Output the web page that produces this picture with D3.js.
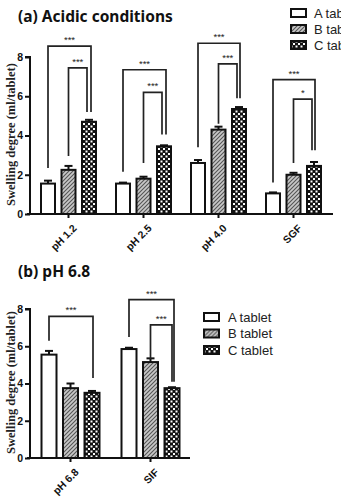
<!DOCTYPE html>
<html>
<head>
<meta charset="utf-8">
<script src="https://cdn.jsdelivr.net/npm/d3@7"></script>
<style>
  body { margin: 0; background: #fff; }
  svg text { font-family: "Liberation Sans", Arial, sans-serif; }
</style>
</head>
<body>
<svg id="svg1" width="341" height="504"></svg>
<script>
// ---- data ----
var tablets = ["A tablet", "B tablet", "C tablet"];
var yTicks = [0, 2, 4, 6, 8];

var acidCats = ["pH 1.2", "pH 2.5", "pH 4.0", "SGF"];
var acidA = [1.55, 1.55, 2.6, 1.05];
var acidB = [2.25, 1.8, 4.3, 2.0];
var acidC = [4.7, 3.45, 5.35, 2.45];
var acidAerr = [0.15, 0.05, 0.15, 0.05];
var acidBerr = [0.2, 0.1, 0.15, 0.1];
var acidCerr = [0.1, 0.05, 0.1, 0.2];
// brackets: category, from bar, to bar, top, left leg bottom, right leg bottom, label, right offset
var acidBrackets = [
  ["pH 1.2", 0, 2, 8.55, 2.35, 5.2, "***", 2],
  ["pH 1.2", 1, 2, 7.45, 2.95, 5.2, "***", -2],
  ["pH 2.5", 0, 2, 7.35, 2.15, 4.05, "***", 2],
  ["pH 2.5", 1, 2, 6.2, 2.6, 4.05, "***", -2],
  ["pH 4.0", 0, 2, 8.7, 3.4, 5.9, "***", 1],
  ["pH 4.0", 1, 2, 7.65, 4.6, 5.9, "***", -2],
  ["SGF", 0, 2, 6.85, 1.6, 3.25, "***", 1],
  ["SGF", 1, 2, 5.85, 2.6, 3.25, "*", -2]
];

var neutCats = ["pH 6.8", "SIF"];
var neutA = [5.55, 5.85];
var neutB = [3.75, 5.15];
var neutC = [3.5, 3.75];
var neutAerr = [0.2, 0.07];
var neutBerr = [0.25, 0.2];
var neutCerr = [0.1, 0.05];
var neutBrackets = [
  ["pH 6.8", 0, 2, 7.6, 6.3, 4.3, "***", 1],
  ["SIF", 0, 2, 8.5, 6.5, 4.1, "***", 2],
  ["SIF", 1, 2, 7.15, 5.3, 4.1, "***", 0]
];

var svg = d3.select("#svg1");

// ---- patterns ----
var defs = svg.append("defs");
var hatch = defs.append("pattern").attr("id", "hatch")
  .attr("patternUnits", "userSpaceOnUse").attr("width", 4).attr("height", 4);
hatch.append("rect").attr("width", 4).attr("height", 4).attr("fill", "#c8c8c8");
hatch.append("path").attr("d", "M-1,1 l2,-2 M0,4 l4,-4 M3,5 l2,-2")
  .attr("stroke", "#555").attr("stroke-width", 1.1);

var check = defs.append("pattern").attr("id", "check")
  .attr("patternUnits", "userSpaceOnUse").attr("width", 5).attr("height", 5);
check.append("rect").attr("width", 5).attr("height", 5).attr("fill", "#111");
check.append("rect").attr("x", 0.5).attr("y", 0.5).attr("width", 2).attr("height", 2).attr("fill", "#fff");
check.append("rect").attr("x", 3).attr("y", 3).attr("width", 2).attr("height", 2).attr("fill", "#fff");

var fills = ["#fff", "url(#hatch)", "url(#check)"];

function panel(opt) {
  var g = svg.append("g");
  var x = d3.scaleBand().domain(opt.cats).range(opt.xRange);
  var xi = d3.scaleBand().domain([0, 1, 2]).range([x.bandwidth() / 2 - opt.step * 1.5, x.bandwidth() / 2 + opt.step * 1.5]);
  var y = d3.scaleLinear().domain([0, 8]).range(opt.yRange);

  var rows = [];
  opt.cats.forEach(function(c, i) {
    [opt.A, opt.B, opt.C].forEach(function(s, k) {
      rows.push({cat: c, k: k, v: s[i], e: [opt.Ae, opt.Be, opt.Ce][k][i]});
    });
  });
  function cx(c, k) { return x(c) + xi(k) + xi.bandwidth() / 2; }

  // bars
  g.selectAll(".bar").data(rows).enter().append("rect")
    .attr("x", function(d) { return cx(d.cat, d.k) - opt.bw / 2; })
    .attr("width", opt.bw)
    .attr("y", function(d) { return y(d.v); })
    .attr("height", function(d) { return y(0) - y(d.v); })
    .attr("fill", function(d) { return fills[d.k]; })
    .attr("stroke", "#111").attr("stroke-width", 2);

  // error bars (upper only)
  var eb = g.selectAll(".err").data(rows).enter().append("g");
  eb.append("line")
    .attr("x1", function(d) { return cx(d.cat, d.k); })
    .attr("x2", function(d) { return cx(d.cat, d.k); })
    .attr("y1", function(d) { return y(d.v); })
    .attr("y2", function(d) { return y(d.v + d.e); })
    .attr("stroke", "#111").attr("stroke-width", 2);
  eb.append("line")
    .attr("x1", function(d) { return cx(d.cat, d.k) - 4; })
    .attr("x2", function(d) { return cx(d.cat, d.k) + 4; })
    .attr("y1", function(d) { return y(d.v + d.e); })
    .attr("y2", function(d) { return y(d.v + d.e); })
    .attr("stroke", "#111").attr("stroke-width", 2);

  // significance brackets
  var br = g.selectAll(".br").data(opt.brackets).enter().append("g");
  br.append("path")
    .attr("d", function(d) {
      var x1 = cx(d[0], d[1]), x2 = cx(d[0], d[2]) + d[7];
      return "M" + x1 + "," + y(d[4]) + "V" + y(d[3]) + "H" + x2 + "V" + y(d[5]);
    })
    .attr("fill", "none").attr("stroke", "#222").attr("stroke-width", 1.7);
  br.append("text")
    .attr("x", function(d) { return (cx(d[0], d[1]) + cx(d[0], d[2]) + d[7]) / 2; })
    .attr("y", function(d) { return y(d[3]) - 3; })
    .attr("text-anchor", "middle")
    .attr("font-size", 9.5).attr("fill", "#222")
    .text(function(d) { return d[6]; });

  // axes
  var ya = g.append("g").attr("transform", "translate(" + opt.xAxisStart + ",0)")
    .call(d3.axisLeft(y).tickValues(yTicks).tickSize(5).tickPadding(2));
  var xa = g.append("g").attr("transform", "translate(0," + y(0) + ")")
    .call(d3.axisBottom(x).tickSize(4).tickSizeOuter(0));
  xa.select(".domain").attr("d", "M" + (opt.xAxisStart - 3) + ",0H" + opt.xAxisEnd);
  [ya, xa].forEach(function(a) {
    a.select(".domain").attr("stroke", "#111").attr("stroke-width", 2);
    a.selectAll(".tick line").attr("stroke", "#111").attr("stroke-width", 2);
    a.selectAll(".tick text").attr("font-weight", "bold").attr("font-size", 10.5)
      .attr("font-family", "Liberation Sans, Arial, sans-serif").attr("fill", "#111");
  });
  ya.select(".domain").attr("d", "M-5," + y(8) + "H0V" + (y(0) + 1));
  xa.selectAll(".tick text")
    .attr("text-anchor", "end")
    .attr("dy", 0)
    .attr("transform", "translate(4,10) rotate(-45)");

  // y label
  g.append("text")
    .attr("transform", "translate(15," + ((y(0) + y(8)) / 2 - 1) + ") rotate(-90)")
    .attr("text-anchor", "middle")
    .style("font-family", "Liberation Serif, Times New Roman, serif")
    .attr("font-weight", "bold").attr("font-size", 12.5).attr("fill", "#222")
    .text("Swelling degree (ml/tablet)");

  // title
  g.append("text").attr("x", 18).attr("y", opt.titleY)
    .style("font-family", "Noto Sans, Open Sans, sans-serif")
    .attr("font-weight", "bold").attr("font-size", 15.5).attr("fill", "#111")
    .text(opt.title);

  // legend
  var lg = g.selectAll(".lg").data(tablets).enter().append("g")
    .attr("transform", function(d, i) { return "translate(" + opt.legX + "," + (opt.legY + i * opt.legStep) + ")"; });
  lg.append("rect").attr("x", 1).attr("y", -4).attr("width", 15).attr("height", 8)
    .attr("fill", function(d, i) { return fills[i]; })
    .attr("stroke", "#111").attr("stroke-width", 2);
  lg.append("text").attr("x", opt.legTextX).attr("y", 4.5)
    .attr("font-size", opt.legFont).attr("fill", "#222")
    .text(function(d) { return d; });
}

panel({
  cats: acidCats, A: acidA, B: acidB, C: acidC,
  Ae: acidAerr, Be: acidBerr, Ce: acidCerr, brackets: acidBrackets,
  xRange: [31, 331], step: 20.5, bw: 14, yRange: [214, 57],
  xAxisStart: 30, xAxisEnd: 333,
  title: "(a) Acidic conditions", titleY: 22,
  legX: 290, legY: 13, legStep: 16, legTextX: 24, legFont: 13
});

panel({
  cats: neutCats, A: neutA, B: neutB, C: neutC,
  Ae: neutAerr, Be: neutBerr, Ce: neutCerr, brackets: neutBrackets,
  xRange: [30.5, 190.5], step: 21.5, bw: 15, yRange: [458, 309],
  xAxisStart: 30, xAxisEnd: 190,
  title: "(b) pH 6.8", titleY: 277,
  legX: 203, legY: 317, legStep: 16.5, legTextX: 25, legFont: 13
});
</script>
</body>
</html>
